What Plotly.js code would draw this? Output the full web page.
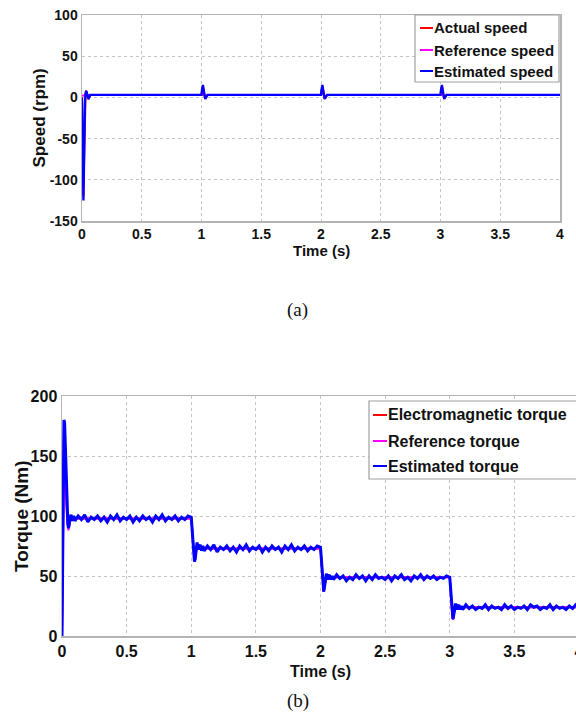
<!DOCTYPE html>
<html>
<head>
<meta charset="utf-8">
<script src="https://cdn.plot.ly/plotly-3.0.1.min.js"></script>
<style>
html,body{margin:0;padding:0;overflow:hidden;background:#fff;width:576px;height:712px;}
#chart{width:600px;height:712px;}
</style>
</head>
<body>
<div id="chart"></div>
<script>
// ---------- Speed (a) ----------
const speedTime = [0, 0.004, 0.008, 0.012, 0.016, 0.02, 0.025, 0.03, 0.035, 0.04, 0.045, 0.05, 0.055, 0.06, 0.065, 0.07, 0.08, 0.1, 0.5, 0.995,
  1.0, 1.004, 1.008, 1.012, 1.016, 1.02, 1.025, 1.03, 1.035, 1.04, 1.05, 1.06, 1.5, 1.995,
  2.0, 2.004, 2.008, 2.012, 2.016, 2.02, 2.025, 2.03, 2.035, 2.04, 2.05, 2.06, 2.5, 2.995,
  3.0, 3.004, 3.008, 3.012, 3.016, 3.02, 3.025, 3.03, 3.035, 3.04, 3.05, 3.06, 3.5, 4.0];
const estimatedSpeed = [0, -45, -105, -125, -90, -40, -6, 5, 8, 6, 2, -1, -2, 0, 2, 3, 3, 3, 3, 3,
  3, 9, 14, 15, 11, 5, 0, -1, -1, 1, 3, 3, 3, 3,
  3, 9, 14, 15, 11, 5, 0, -1, -1, 1, 3, 3, 3, 3,
  3, 9, 14, 15, 11, 5, 0, -1, -1, 1, 3, 3, 3, 3];
const actualSpeed = [0, -42, -100, -120, -88, -40, -6, 5, 8, 6, 2, -1, -2, 0, 2, 3, 3, 3, 3, 3,
  3, 8, 13, 14, 11, 5, 0, -1, -1, 1, 3, 3, 3, 3,
  3, 8, 13, 14, 11, 5, 0, -1, -1, 1, 3, 3, 3, 3,
  3, 8, 13, 14, 11, 5, 0, -1, -1, 1, 3, 3, 3, 3];
const refSpeedTime = [0, 0.03, 1.0, 1.01, 1.03, 1.06, 2.0, 2.01, 2.03, 2.06, 3.0, 3.01, 3.03, 3.06, 4.0];
const referenceSpeed = [2, 3, 3, 6, 1, 3, 3, 6, 1, 3, 3, 6, 1, 3, 3];

// ---------- Torque (b) ----------
const torqueTime = [0, 0.005, 0.01, 0.015, 0.02, 0.025, 0.03, 0.035, 0.04, 0.045, 0.05, 0.055, 0.06, 0.07, 0.08, 0.09,
  0.1, 0.125, 0.15, 0.175, 0.2, 0.225, 0.25, 0.275, 0.3, 0.325, 0.35, 0.375, 0.4, 0.425, 0.45, 0.475, 0.5, 0.525, 0.55, 0.575,
  0.6, 0.625, 0.65, 0.675, 0.7, 0.725, 0.75, 0.775, 0.8, 0.825, 0.85, 0.875, 0.9, 0.925, 0.95, 0.975, 1.0,
  1.005, 1.01, 1.015, 1.02, 1.025, 1.03, 1.035, 1.04, 1.045, 1.05, 1.055, 1.06, 1.07, 1.08, 1.09,
  1.1, 1.125, 1.15, 1.175, 1.2, 1.225, 1.25, 1.275, 1.3, 1.325, 1.35, 1.375, 1.4, 1.425, 1.45, 1.475, 1.5, 1.525, 1.55, 1.575,
  1.6, 1.625, 1.65, 1.675, 1.7, 1.725, 1.75, 1.775, 1.8, 1.825, 1.85, 1.875, 1.9, 1.925, 1.95, 1.975, 2.0,
  2.005, 2.01, 2.015, 2.02, 2.025, 2.03, 2.035, 2.04, 2.045, 2.05, 2.055, 2.06, 2.07, 2.08, 2.09,
  2.1, 2.125, 2.15, 2.175, 2.2, 2.225, 2.25, 2.275, 2.3, 2.325, 2.35, 2.375, 2.4, 2.425, 2.45, 2.475, 2.5, 2.525, 2.55, 2.575,
  2.6, 2.625, 2.65, 2.675, 2.7, 2.725, 2.75, 2.775, 2.8, 2.825, 2.85, 2.875, 2.9, 2.925, 2.95, 2.975, 3.0,
  3.005, 3.01, 3.015, 3.02, 3.025, 3.03, 3.035, 3.04, 3.045, 3.05, 3.055, 3.06, 3.07, 3.08, 3.09,
  3.1, 3.125, 3.15, 3.175, 3.2, 3.225, 3.25, 3.275, 3.3, 3.325, 3.35, 3.375, 3.4, 3.425, 3.45, 3.475, 3.5, 3.525, 3.55, 3.575,
  3.6, 3.625, 3.65, 3.675, 3.7, 3.725, 3.75, 3.775, 3.8, 3.825, 3.85, 3.875, 3.9, 3.925, 3.95, 3.975, 4.0];
const estimatedTorque = [0, 90, 165, 180, 178, 160, 140, 120, 104, 94, 90, 92, 98, 101, 96, 100,
  96, 100, 97, 101, 95, 99, 97, 100, 96, 99, 95, 100, 97, 101, 96, 99, 97, 100, 95, 99,
  96, 100, 97, 99, 95, 100, 97, 101, 96, 99, 97, 100, 96, 99, 97, 100, 99,
  92, 82, 72, 65, 62, 64, 70, 76, 78, 75, 72, 74, 76, 71, 75,
  71, 75, 72, 76, 70, 74, 72, 75, 71, 74, 70, 75, 72, 76, 71, 74, 72, 75, 70, 74,
  71, 75, 72, 74, 70, 75, 72, 76, 71, 74, 72, 75, 71, 74, 72, 75, 74,
  66, 56, 46, 40, 37, 40, 46, 51, 52, 50, 47, 49, 51, 47, 50,
  47, 51, 48, 50, 46, 49, 47, 51, 48, 50, 46, 50, 47, 51, 48, 49, 47, 50, 46, 50,
  48, 51, 47, 49, 46, 50, 48, 51, 47, 50, 48, 50, 47, 49, 48, 50, 49,
  41, 31, 21, 16, 14, 17, 22, 26, 27, 25, 22, 24, 26, 22, 25,
  22, 26, 23, 25, 22, 24, 23, 26, 22, 25, 23, 24, 22, 26, 23, 25, 22, 24, 23, 25,
  22, 26, 24, 25, 22, 24, 23, 26, 22, 25, 23, 24, 22, 25, 23, 26, 24];
const refTorqueTime = [0, 0.004, 0.01, 0.015, 0.02, 0.03, 0.04, 0.05, 0.06, 0.08, 1.0, 1.005, 1.01, 1.015, 1.02, 1.025, 1.03, 1.04, 1.045, 1.05, 1.06, 1.08,
  2.0, 2.005, 2.01, 2.015, 2.02, 2.025, 2.03, 2.04, 2.045, 2.05, 2.06, 2.08,
  3.0, 3.005, 3.01, 3.015, 3.02, 3.025, 3.03, 3.04, 3.045, 3.05, 3.06, 3.08, 4.0];
const referenceTorque = [0, 60, 140, 150, 140, 115, 96, 88, 95, 98, 98, 92, 82, 72, 65, 62, 64, 75, 77, 75, 74, 73,
  73, 66, 56, 46, 40, 37, 40, 50, 51, 50, 49, 49,
  49, 41, 31, 21, 16, 14, 17, 25, 26, 25, 24, 24, 24];
const electromagneticTorque = [0, 75, 155, 172, 170, 135, 100, 90, 97, 98, 98, 92, 82, 72, 65, 62, 64, 75, 77, 75, 74, 73,
  73, 66, 56, 46, 40, 37, 40, 50, 51, 50, 49, 49,
  49, 41, 31, 21, 16, 14, 17, 25, 26, 25, 24, 24, 24];

const xTicks = [0, 0.5, 1, 1.5, 2, 2.5, 3, 3.5, 4];
const xTickText = ['0', '0.5', '1', '1.5', '2', '2.5', '3', '3.5', '4'];
const speedTicks = [-150, -100, -50, 0, 50, 100];
const torqueTicks = [0, 50, 100, 150, 200];

const speedNames = ['Actual speed', 'Reference speed', 'Estimated speed'];
const torqueNames = ['Electromagnetic torque', 'Reference torque', 'Estimated torque'];
const seriesColors = ['#ff0000', '#ff00ff', '#0000ff'];

const W = 600, H = 712;
const px = v => v / W;
const py = v => 1 - v / H;
const SANS = 'Liberation Sans, Arial, sans-serif';
const SERIF = 'Liberation Serif, Times New Roman, serif';

const traces = [
  {x: speedTime, y: actualSpeed, name: speedNames[0], type: 'scatter', mode: 'lines',
   line: {color: seriesColors[0], width: 2}, xaxis: 'x', yaxis: 'y'},
  {x: refSpeedTime, y: referenceSpeed, name: speedNames[1], type: 'scatter', mode: 'lines',
   line: {color: seriesColors[1], width: 2}, xaxis: 'x', yaxis: 'y'},
  {x: speedTime, y: estimatedSpeed, name: speedNames[2], type: 'scatter', mode: 'lines',
   line: {color: seriesColors[2], width: 2.3}, xaxis: 'x', yaxis: 'y'},
  {x: refTorqueTime, y: electromagneticTorque, name: torqueNames[0], type: 'scatter', mode: 'lines',
   line: {color: seriesColors[0], width: 2}, xaxis: 'x2', yaxis: 'y2'},
  {x: refTorqueTime, y: referenceTorque, name: torqueNames[1], type: 'scatter', mode: 'lines',
   line: {color: seriesColors[1], width: 2}, xaxis: 'x2', yaxis: 'y2'},
  {x: torqueTime, y: estimatedTorque, name: torqueNames[2], type: 'scatter', mode: 'lines',
   line: {color: seriesColors[2], width: 3}, xaxis: 'x2', yaxis: 'y2'}
];

const axBase = {
  showgrid: true, gridcolor: '#c4c4c4', griddash: 'dot', gridwidth: 1,
  showline: true, mirror: true, linecolor: '#b4b4b4', linewidth: 1.5,
  zeroline: false, ticks: '', automargin: false, fixedrange: true
};

// custom legend boxes (MATLAB style: short line sample right before text)
const shapes = [];
const annotations = [];
function addLegend(names, box, rowYs, lineX0, lineX1, textX, fontSize) {
  shapes.push({type: 'rect', xref: 'paper', yref: 'paper', x0: px(box[0]), x1: px(box[1]), y0: py(box[3]), y1: py(box[2]),
    fillcolor: '#ffffff', line: {color: '#a0a0a0', width: 1.2}, layer: 'above'});
  names.forEach((n, i) => {
    shapes.push({type: 'line', xref: 'paper', yref: 'paper', x0: px(lineX0), x1: px(lineX1), y0: py(rowYs[i]), y1: py(rowYs[i]),
      line: {color: seriesColors[i], width: 2}, layer: 'above'});
    annotations.push({text: n, xref: 'paper', yref: 'paper', x: px(textX), y: py(rowYs[i]), showarrow: false,
      xanchor: 'left', yanchor: 'middle', font: {family: SANS, size: fontSize, weight: 'bold', color: '#111'}});
  });
}
addLegend(speedNames, [415, 559, 15, 82], [28, 50, 71], 420, 433, 432, 15);
addLegend(torqueNames, [369, 600, 401, 479], [415, 441, 466], 373, 387, 386, 16);

annotations.push(
  {text: 'Speed (rpm)', xref: 'paper', yref: 'paper', x: px(38.5), y: py(118), textangle: -90,
   showarrow: false, xanchor: 'center', yanchor: 'middle', font: {family: SANS, size: 17, weight: 'bold', color: '#111'}},
  {text: 'Time (s)', xref: 'paper', yref: 'paper', x: px(321), y: py(250),
   showarrow: false, xanchor: 'center', yanchor: 'middle', font: {family: SANS, size: 15, weight: 'bold', color: '#111'}},
  {text: '(a)', xref: 'paper', yref: 'paper', x: px(297), y: py(310),
   showarrow: false, xanchor: 'center', yanchor: 'middle', font: {family: SERIF, size: 19, color: '#111'}},
  {text: 'Torque (Nm)', xref: 'paper', yref: 'paper', x: px(21), y: py(516), textangle: -90,
   showarrow: false, xanchor: 'center', yanchor: 'middle', font: {family: SANS, size: 19, weight: 'bold', color: '#111'}},
  {text: 'Time (s)', xref: 'paper', yref: 'paper', x: px(320), y: py(671),
   showarrow: false, xanchor: 'center', yanchor: 'middle', font: {family: SANS, size: 16, weight: 'bold', color: '#111'}},
  {text: '(b)', xref: 'paper', yref: 'paper', x: px(298), y: py(701),
   showarrow: false, xanchor: 'center', yanchor: 'middle', font: {family: SERIF, size: 19, color: '#111'}}
);

const layout = {
  width: W, height: H,
  margin: {l: 0, r: 0, t: 0, b: 0},
  paper_bgcolor: '#ffffff', plot_bgcolor: '#ffffff',
  showlegend: false,
  xaxis: Object.assign({}, axBase, {domain: [px(82), px(560)], range: [0, 4], anchor: 'y',
    tickvals: xTicks, ticktext: xTickText,
    tickfont: {family: SANS, size: 14, weight: 'bold', color: '#111'}}),
  yaxis: Object.assign({}, axBase, {domain: [py(221), py(15)], range: [-150, 100], anchor: 'x',
    tickvals: speedTicks, ticktext: speedTicks.map(String),
    tickfont: {family: SANS, size: 14, weight: 'bold', color: '#111'}}),
  xaxis2: Object.assign({}, axBase, {domain: [px(62), px(579)], range: [0, 4], anchor: 'y2',
    tickvals: xTicks, ticktext: xTickText,
    tickfont: {family: SANS, size: 16, weight: 'bold', color: '#111'}}),
  yaxis2: Object.assign({}, axBase, {domain: [py(636), py(396)], range: [0, 200], anchor: 'x2',
    tickvals: torqueTicks, ticktext: torqueTicks.map(String),
    tickfont: {family: SANS, size: 16, weight: 'bold', color: '#111'}}),
  shapes: shapes,
  annotations: annotations
};

Plotly.newPlot('chart', traces, layout, {staticPlot: true, displayModeBar: false});
</script>
</body>
</html>
